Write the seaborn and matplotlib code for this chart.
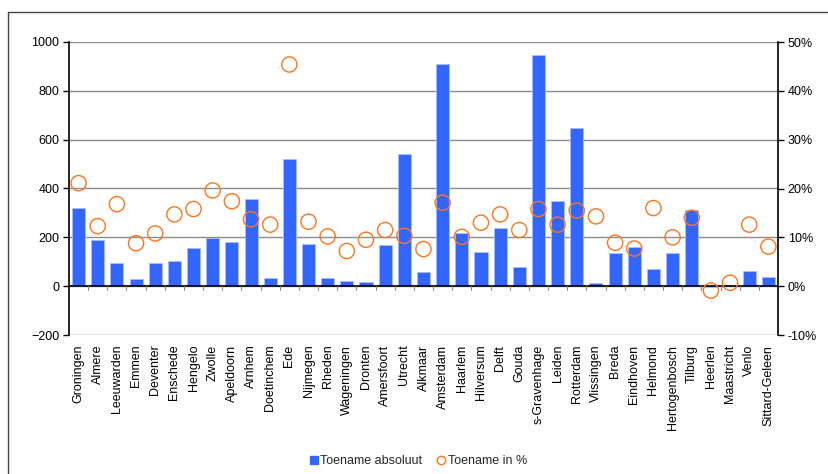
import matplotlib
matplotlib.use("Agg")
import matplotlib.pyplot as plt
from matplotlib.lines import Line2D
from matplotlib.ticker import FuncFormatter
import numpy as np
import pandas as pd
import seaborn as sns

# Growth per city: absolute increase and relative increase (%)
cities = [
    "Groningen", "Almere", "Leeuwarden", "Emmen", "Deventer", "Enschede",
    "Hengelo", "Zwolle", "Apeldoorn", "Arnhem", "Doetinchem", "Ede",
    "Nijmegen", "Rheden", "Wageningen", "Dronten", "Amersfoort", "Utrecht",
    "Alkmaar", "Amsterdam", "Haarlem", "Hilversum", "Delft", "Gouda",
    "s-Gravenhage", "Leiden", "Rotterdam", "Vlissingen", "Breda", "Eindhoven",
    "Helmond", "Hertogenbosch", "Tilburg", "Heerlen", "Maastricht", "Venlo",
    "Sittard-Geleen",
]
toename_absoluut = [
    322, 190, 95, 29, 93, 104,
    158, 199, 179, 355, 33, 520,
    173, 33, 20, 19, 168, 543,
    60, 909, 216, 139, 237, 80,
    945, 349, 648, 11, 134, 160,
    72, 136, 311, -5, 4, 64,
    37,
]
toename_pct = [
    21.1, 12.3, 16.8, 8.8, 10.8, 14.7,
    15.8, 19.6, 17.4, 13.7, 12.6, 45.4,
    13.2, 10.2, 7.2, 9.5, 11.5, 10.3,
    7.6, 17.1, 10.1, 13.0, 14.7, 11.5,
    15.8, 12.6, 15.5, 14.3, 8.9, 7.7,
    16.0, 10.0, 14.0, -0.9, 0.7, 12.6,
    8.1,
]
left_ticks = [-200, 0, 200, 400, 600, 800, 1000]
right_ticks = [-10, 0, 10, 20, 30, 40, 50]

df = pd.DataFrame({"stad": cities, "absoluut": toename_absoluut, "pct": toename_pct})

sns.set_theme(style="white")
plt.rcParams["font.family"] = ["Liberation Sans", "DejaVu Sans"]

BLUE = "#3366FF"
ORANGE = "#FF7518"
GRID = "#8c8c8c"
FS = 9

fig = plt.figure(figsize=(8.29, 4.74), dpi=100)
ax = fig.add_axes([69 / 829, 1 - 335 / 474, (778 - 69) / 829, (335 - 42) / 474])

sns.barplot(data=df, x="stad", y="absoluut", color=BLUE, width=0.68,
            saturation=1, edgecolor="#a9bfff", linewidth=0.6, ax=ax, zorder=3)

ax.set_ylim(left_ticks[0], left_ticks[-1])
ax.set_xlim(-0.5, len(cities) - 0.5)
ax.set_yticks(left_ticks)
ax.yaxis.grid(True, color=GRID, linewidth=1)
ax.set_axisbelow(True)
ax.axhline(0, color="black", linewidth=1.2, zorder=4)
for s in ["top", "bottom"]:
    ax.spines[s].set_visible(False)
ax.spines["left"].set_color("black")
ax.spines["left"].set_linewidth(1.2)
ax.spines["right"].set_visible(False)
ax.set_xlabel("")
ax.set_ylabel("")
ax.tick_params(axis="y", left=True, length=4, width=1, color="black",
               labelsize=FS, pad=3, labelcolor="black")
ax.tick_params(axis="x", bottom=False, labelsize=FS, labelrotation=90, pad=1,
               labelcolor="black")

# category separator ticks hanging below the zero line
trans = ax.get_xaxis_transform()
zero_frac = (0 - left_ticks[0]) / (left_ticks[-1] - left_ticks[0])
for b in np.arange(0.5, len(cities) - 0.5, 1.0):
    ax.plot([b, b], [zero_frac, zero_frac - 0.012], transform=trans,
            color="#888888", linewidth=0.8, clip_on=False, zorder=4)

ax2 = ax.twinx()
sns.scatterplot(data=df, x="stad", y="pct", ax=ax2, s=120, marker="o",
                facecolor="none", edgecolor=ORANGE, linewidth=1.0, zorder=5,
                legend=False)
ax2.set_ylim(right_ticks[0], right_ticks[-1])
ax2.set_xlim(-0.5, len(cities) - 0.5)
ax2.set_yticks(right_ticks)
ax2.yaxis.set_major_formatter(FuncFormatter(lambda v, p: f"{v:.0f}%"))
ax2.set_ylabel("")
ax2.grid(False)
for s in ["top", "bottom", "left"]:
    ax2.spines[s].set_visible(False)
ax2.spines["right"].set_color("black")
ax2.spines["right"].set_linewidth(1.2)
ax2.tick_params(axis="y", right=True, length=4, width=1, color="black",
                labelsize=FS, pad=3, labelcolor="black")

# legend along the bottom
handles = [
    Line2D([], [], linestyle="none", marker="s", markersize=6,
           markerfacecolor=BLUE, markeredgecolor=BLUE),
    Line2D([], [], linestyle="none", marker="o", markersize=6,
           markerfacecolor="none", markeredgecolor=ORANGE, markeredgewidth=1),
]
fig.legend(handles, ["Toename absoluut", "Toename in %"], loc="center",
           bbox_to_anchor=(0.505, 1 - 461 / 474), ncol=2, frameon=False,
           fontsize=FS, handlelength=0.6, handletextpad=0.2, columnspacing=1.2)

# outer chart frame
fig.add_artist(Line2D([8 / 829, 8 / 829], [0, 1 - 12 / 474], transform=fig.transFigure,
                      color="#444444", linewidth=1))
fig.add_artist(Line2D([8 / 829, 1], [1 - 12 / 474, 1 - 12 / 474], transform=fig.transFigure,
                      color="#444444", linewidth=1))

fig.savefig("out.png", dpi=100, facecolor="white")
